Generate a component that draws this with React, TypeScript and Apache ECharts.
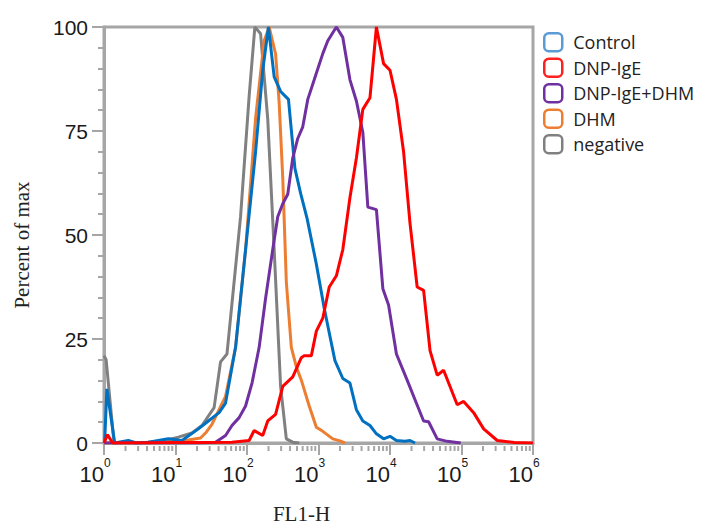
import React, { useEffect, useRef } from "react";
import * as echarts from "echarts";

// x values are log10(FL1-H); y values are percent of max
const legendNames = ["Control", "DNP-IgE", "DNP-IgE+DHM", "DHM", "negative"];
const seriesColors = ["#0070C0", "#FF0000", "#7030A0", "#ED7D31", "#808080"];
const legendBorder = ["#5B9BD5", "#FF2020", "#7030A0", "#ED7D31", "#808080"];

const negativeLogX = [0.0, 0.03, 0.14, 0.34, 0.5, 0.62, 0.83, 1.04, 1.23, 1.37, 1.54, 1.63, 1.72, 1.91, 2.03, 2.11, 2.19, 2.29, 2.38, 2.47, 2.55, 2.64, 2.73];
const negativePct = [21, 20, 0, 0.3, 0, 0.2, 0.5, 1.4, 2.4, 4.2, 8.5, 19.5, 21.4, 54.4, 83.4, 100, 98.4, 77.9, 46.5, 13.6, 1, 0.2, 0];

const controlLogX = [0.01, 0.04, 0.15, 0.34, 0.45, 0.62, 0.9, 1.09, 1.32, 1.46, 1.61, 1.7, 1.84, 1.98, 2.12, 2.22, 2.3, 2.38, 2.47, 2.58, 2.67, 2.75, 2.84, 2.97, 3.08, 3.23, 3.34, 3.44, 3.53, 3.62, 3.72, 3.81, 3.91, 4.0, 4.09, 4.21, 4.28, 4.35];
const controlPct = [0.5, 13, 0, 0.6, 0, 0.2, 1, 0.6, 3.4, 5.3, 7.3, 9.6, 23, 46.5, 70, 89.6, 100, 88, 84.5, 82.6, 66, 60, 54, 43, 32.4, 19.8, 15.5, 14.4, 8, 5.3, 4.2, 2.2, 1, 1.6, 0.6, 0.4, 0.6, 0];

const dhmLogX = [0.0, 0.62, 0.9, 1.18, 1.35, 1.43, 1.51, 1.7, 1.84, 1.98, 2.12, 2.24, 2.31, 2.4, 2.45, 2.5, 2.55, 2.62, 2.69, 2.76, 2.87, 2.97, 3.06, 3.2, 3.3, 3.37];
const dhmPct = [0, 0, 0.3, 0.7, 1.2, 2.6, 4.5, 11.2, 23, 46.5, 78, 96.7, 100, 93.5, 81.8, 63.8, 38.7, 23, 18.3, 15.1, 8.9, 3.8, 2.8, 1, 0.5, 0];

const dnpDhmLogX = [0.0, 1.32, 1.56, 1.7, 1.79, 1.89, 1.98, 2.07, 2.17, 2.26, 2.36, 2.43, 2.5, 2.57, 2.64, 2.71, 2.78, 2.85, 2.94, 3.06, 3.13, 3.25, 3.34, 3.44, 3.53, 3.62, 3.69, 3.81, 3.9, 3.98, 4.09, 4.24, 4.35, 4.47, 4.54, 4.66, 4.8, 4.99];
const dnpDhmPct = [0, 0, 0.2, 1.8, 4.2, 6.1, 8.9, 14.4, 23, 34.8, 46.5, 54.4, 57.5, 59.8, 68.5, 73.2, 76, 82.6, 87.3, 93.6, 96.7, 100, 97.5, 87.3, 82.2, 74.7, 56.7, 56.1, 37.1, 33.2, 21.4, 15.1, 10.4, 5.3, 5.1, 1, 0.4, 0];

const dnpLogX = [0.0, 0.05, 0.12, 1.79, 2.03, 2.1, 2.22, 2.29, 2.4, 2.5, 2.64, 2.76, 2.8, 2.9, 2.97, 3.06, 3.15, 3.25, 3.34, 3.44, 3.53, 3.62, 3.72, 3.81, 3.91, 4.0, 4.09, 4.19, 4.28, 4.38, 4.47, 4.56, 4.66, 4.75, 4.94, 5.03, 5.17, 5.31, 5.5, 5.74, 6.0];
const dnpPct = [0, 2, 0, 0.2, 0.6, 3, 1.8, 5.3, 6.9, 13.6, 15.9, 20.5, 21, 21, 26.9, 30, 37.5, 40.2, 46.5, 59, 68.5, 80.2, 83, 100, 91.2, 89.6, 82.6, 70, 52.8, 37.5, 36.7, 22.2, 16.3, 17.5, 9.2, 10, 7.3, 3.4, 0.6, 0.1, 0];

const decades = [0, 1, 2, 3, 4, 5];
const minorMultipliers = [2, 3, 4, 5, 6, 7, 8, 9];
const yTicks = [0, 25, 50, 75, 100];

const AXIS_GRAY = "#a6a6a6";

function pairs(xs: number[], ys: number[]) {
  return xs.map((x, i) => [x, ys[i]]);
}

export default function App() {
  const ref = useRef<HTMLDivElement>(null);
  useEffect(() => {
    if (!ref.current) return;
    const chart = echarts.init(ref.current, null, { renderer: "svg" });
    const minorTickData: number[][] = [];
    decades.forEach((d) => minorMultipliers.forEach((m) => minorTickData.push([d + Math.log10(m), 0])));

    const seriesDefs = [
      { name: "negative", x: negativeLogX, y: negativePct, c: seriesColors[4] },
      { name: "DHM", x: dhmLogX, y: dhmPct, c: seriesColors[3] },
      { name: "Control", x: controlLogX, y: controlPct, c: seriesColors[0] },
      { name: "DNP-IgE+DHM", x: dnpDhmLogX, y: dnpDhmPct, c: seriesColors[2] },
      { name: "DNP-IgE", x: dnpLogX, y: dnpPct, c: seriesColors[1] },
    ];

    chart.setOption({
      animation: false,
      backgroundColor: "#ffffff",
      grid: {
        left: 104,
        right: 172,
        top: 27,
        bottom: 79,
        show: true,
        borderColor: AXIS_GRAY,
        borderWidth: 3,
        containLabel: false,
      },
      legend: {
        orient: "vertical",
        left: 538,
        top: 27,
        itemWidth: 18,
        itemHeight: 18,
        itemGap: 5,
        icon: "roundRect",
        textStyle: { fontFamily: "Open Sans", fontSize: 18, color: "#222", padding: [0, 0, 0, 6] },
        data: legendNames.map((n, i) => ({
          name: n,
          itemStyle: { color: "#ffffff", borderColor: legendBorder[i], borderWidth: 2.5 },
        })),
      },
      xAxis: {
        type: "value",
        min: 0,
        max: 6,
        interval: 1,
        name: "FL1-H",
        nameLocation: "middle",
        nameGap: 60,
        nameTextStyle: { fontFamily: "Liberation Serif", fontSize: 21, color: "#222", padding: [0, 34, 0, 0] },
        axisLine: { show: true, lineStyle: { color: AXIS_GRAY, width: 3 } },
        axisTick: { show: true, length: 12, lineStyle: { color: AXIS_GRAY, width: 2 } },
        splitLine: { show: false },
        axisLabel: {
          margin: 14,
          formatter: (v: number) => `{b|10}{s|${Math.round(v)}}{sp|}`,
          rich: {
            b: { fontFamily: "Liberation Sans", fontSize: 22, color: "#1a1a1a", padding: [6, 0, 0, 0] },
            s: { fontFamily: "Liberation Sans", fontSize: 12, color: "#1a1a1a", verticalAlign: "top" },
            sp: { width: 18 },
          },
        },
      },
      yAxis: {
        type: "value",
        min: 0,
        max: 100,
        interval: 25,
        name: "Percent of max",
        nameLocation: "middle",
        nameGap: 72,
        nameTextStyle: { fontFamily: "Liberation Serif", fontSize: 21, color: "#222", padding: [0, 20, 0, 0] },
        axisLine: { show: true, lineStyle: { color: AXIS_GRAY, width: 3 } },
        axisTick: { show: true, length: 12, lineStyle: { color: AXIS_GRAY, width: 2 } },
        minorTick: { show: true, splitNumber: 5, length: 6, lineStyle: { color: AXIS_GRAY, width: 2 } },
        splitLine: { show: false },
        axisLabel: {
          margin: 16,
          fontFamily: "Liberation Sans",
          fontSize: 21,
          color: "#1a1a1a",
          formatter: (v: number) => (yTicks.includes(v) ? String(v) : ""),
        },
      },
      series: [
        ...seriesDefs.map((s) => ({
          name: s.name,
          type: "line",
          data: pairs(s.x, s.y),
          showSymbol: false,
          symbol: "none",
          smooth: false,
          lineStyle: { color: s.c, width: 3 },
          itemStyle: { color: s.c },
        })),
        {
          name: "minorTicks",
          type: "custom",
          silent: true,
          clip: false,
          data: minorTickData,
          renderItem: (params: any, api: any) => {
            const p = api.coord([api.value(0), 0]);
            return {
              type: "line",
              shape: { x1: p[0], y1: p[1] + 3, x2: p[0], y2: p[1] + 8 },
              style: { stroke: AXIS_GRAY, lineWidth: 2 },
            };
          },
        },
      ],
    });
    return () => chart.dispose();
  }, []);
  return <div ref={ref} style={{ position: "fixed", left: 0, top: 0, width: 705, height: 529 }} />;
}
